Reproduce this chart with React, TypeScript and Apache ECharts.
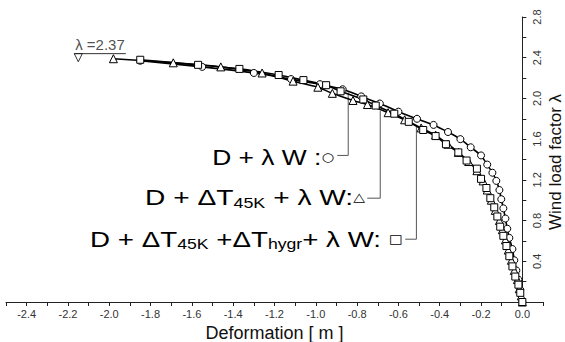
import React, { useEffect, useRef } from 'react';
import * as echarts from 'echarts';

// Deformation [m] (x) and wind load factor λ (y)
const circleX = [-1.85, -1.55, -1.30, -1.12, -0.98, -0.87, -0.78, -0.69, -0.60, -0.51, -0.43, -0.36, -0.30, -0.25, -0.20, -0.17, -0.145, -0.126, -0.111, -0.102, -0.092, -0.082, -0.073, -0.063, -0.048, -0.039, -0.029, -0.019, -0.010, 0];
const circleY = [2.37, 2.31, 2.25, 2.19, 2.14, 2.09, 2.02, 1.95, 1.87, 1.80, 1.74, 1.67, 1.60, 1.52, 1.44, 1.35, 1.27, 1.19, 1.10, 1.01, 0.92, 0.82, 0.72, 0.63, 0.52, 0.41, 0.31, 0.22, 0.12, 0];

const triX = [-1.98, -1.69, -1.46, -1.26, -1.11, -0.99, -0.92, -0.82, -0.75, -0.65, -0.57, -0.49, -0.42, -0.36, -0.31, -0.26, -0.22, -0.19, -0.17, -0.15, -0.131, -0.111, -0.097, -0.082, -0.068, -0.053, -0.039, -0.024, -0.015, -0.005, 0];
const triY = [2.39, 2.35, 2.31, 2.25, 2.17, 2.11, 2.05, 1.98, 1.94, 1.86, 1.79, 1.71, 1.64, 1.55, 1.47, 1.38, 1.29, 1.19, 1.10, 1.00, 0.90, 0.80, 0.71, 0.61, 0.51, 0.41, 0.31, 0.22, 0.13, 0.06, 0];

const squareX = [-1.85, -1.57, -1.37, -1.18, -1.06, -0.95, -0.88, -0.77, -0.71, -0.62, -0.55, -0.48, -0.42, -0.37, -0.31, -0.27, -0.22, -0.20, -0.174, -0.155, -0.136, -0.121, -0.107, -0.092, -0.077, -0.063, -0.048, -0.034, -0.019, -0.010, 0];
const squareY = [2.38, 2.33, 2.29, 2.23, 2.18, 2.13, 2.07, 1.99, 1.93, 1.85, 1.77, 1.69, 1.63, 1.55, 1.47, 1.39, 1.31, 1.21, 1.12, 1.02, 0.93, 0.84, 0.74, 0.65, 0.55, 0.45, 0.35, 0.25, 0.17, 0.09, 0];

// ultimate load marker
const ultX = [-2.15];
const ultY = [2.40];
const ultLabel = 'λ =2.37';
const ultLineX = [-2.17, -1.92];
const ultLineY = [2.44, 2.44];

// leader lines (data coords)
const leadCircleX = [-0.896, -0.843, -0.843];
const leadCircleY = [1.44, 1.44, 2.06];
const leadTriX = [-0.751, -0.688, -0.688];
const leadTriY = [1.02, 1.02, 1.88];
const leadSquareX = [-0.567, -0.513, -0.513];
const leadSquareY = [0.617, 0.617, 1.74];

const xTickLabels = [-2.4, -2.2, -2.0, -1.8, -1.6, -1.4, -1.2, -1.0, -0.8, -0.6, -0.4, -0.2, 0.0];
const yTickLabels = [0.4, 0.8, 1.2, 1.6, 2.0, 2.4, 2.8];
const yAxisTitle = 'Wind load factor λ';

const FONT = '"Liberation Sans", Arial, sans-serif';
const zip = (xs: number[], ys: number[]) => xs.map((x, i) => [x, ys[i]]);

export default function App() {
  const ref = useRef<HTMLDivElement>(null);
  useEffect(() => {
    const chart = echarts.init(ref.current!, null, { renderer: 'svg' });
    const markerStyle = { color: '#ffffff', borderColor: '#000000', borderWidth: 1 };
    const curve = (name: string, xs: number[], ys: number[], symbol: string, size: number) => ({
      name,
      type: 'line',
      data: zip(xs, ys),
      symbol,
      symbolSize: size,
      showAllSymbol: true,
      smooth: 0.2,
      lineStyle: { color: '#000', width: 1.6 },
      itemStyle: markerStyle,
      z: 3,
    });
    const leader = (xs: number[], ys: number[]) => ({
      type: 'line',
      data: zip(xs, ys),
      symbol: 'none',
      lineStyle: { color: '#555', width: 1 },
      z: 2,
      silent: true,
    });
    const sub = { fontSize: 14, fontFamily: FONT, color: '#111', padding: [11, 0, 0, 0] };
    const main = { fontSize: 22, fontFamily: FONT, color: '#111' };
    const sym = { fontSize: 12, fontFamily: '"DejaVu Sans", sans-serif', color: '#333' };
    const legendText = (text: string, x: number, y: number, sx: number) => ({
      type: 'text',
      x,
      y,
      scaleX: sx,
      style: {
        text,
        align: 'right',
        verticalAlign: 'middle',
        rich: { m: main, s: sub, k: sym },
      },
    });
    chart.setOption({
      animation: false,
      backgroundColor: '#ffffff',
      grid: { left: 6, right: 22, top: 17, bottom: 40, containLabel: false, outerBoundsMode: 'none' },
      xAxis: {
        type: 'value',
        min: -2.5,
        max: 0.1,
        interval: 0.1,
        name: 'Deformation [ m ]',
        nameLocation: 'middle',
        nameGap: 22,
        nameMoveOverlap: false,
        nameTextStyle: { fontSize: 18, fontFamily: FONT, color: '#111' },
        axisLine: { onZero: false, lineStyle: { color: '#222', width: 1 } },
        axisTick: { show: true, inside: false, length: 4, lineStyle: { color: '#222' } },
        axisLabel: {
          fontSize: 11,
          fontFamily: FONT,
          color: '#333',
          margin: 6,
          showMinLabel: true,
          showMaxLabel: true,
          formatter: (v: number) => {
            const hit = xTickLabels.find((t) => Math.abs(t - v) < 1e-6);
            return hit === undefined ? '' : hit.toFixed(1);
          },
        },
        splitLine: { show: false },
      },
      yAxis: {
        type: 'value',
        position: 'right',
        min: 0,
        max: 2.8,
        interval: 0.2,
        axisLine: { show: true, onZero: true, lineStyle: { color: '#222', width: 1 } },
        axisTick: { show: true, inside: false, length: 4, lineStyle: { color: '#222' } },
        axisLabel: {
          rotate: 90,
          fontSize: 11,
          fontFamily: FONT,
          color: '#333',
          margin: -12,
          formatter: (v: number) => {
            const hit = yTickLabels.find((t) => Math.abs(t - v) < 1e-6);
            return hit === undefined ? '' : hit.toFixed(1);
          },
        },
        splitLine: { show: false },
      },
      series: [
        leader(leadCircleX, leadCircleY),
        leader(leadTriX, leadTriY),
        leader(leadSquareX, leadSquareY),
        curve('D + λ W', circleX, circleY, 'circle', 7),
        curve('D + ΔT45K + λ W', triX, triY, 'triangle', 8),
        curve('D + ΔT45K + ΔThygr + λ W', squareX, squareY, 'rect', 7),
        {
          type: 'line',
          data: zip(ultLineX, ultLineY),
          symbol: 'none',
          lineStyle: { color: '#333', width: 1 },
          z: 2,
        },
        {
          type: 'scatter',
          data: zip(ultX, ultY),
          symbol: 'triangle',
          symbolRotate: 180,
          symbolSize: 8,
          itemStyle: markerStyle,
          z: 4,
        },
        {
          type: 'scatter',
          data: [[(ultLineX[0] + ultLineX[1]) / 2, ultLineY[0]]],
          symbolSize: 1,
          itemStyle: { color: 'rgba(0,0,0,0)' },
          label: {
            show: true,
            position: 'top',
            distance: 1,
            formatter: ultLabel,
            fontSize: 15,
            fontFamily: FONT,
            color: '#222',
          },
          z: 4,
        },
      ],
      graphic: [
        legendText('{m|D + λ W :}{k|○}', 334, 157, 1.2),
        legendText('{m|D + ΔT}{s|45K}{m| + λ W:}{k|△}', 365, 197, 1.28),
        legendText('{m|D + ΔT}{s|45K}{m| +ΔT}{s|hygr}{m|+ λ W: }{k|□}', 403, 239, 1.26),
        {
          type: 'text',
          x: 555,
          y: 162,
          rotation: Math.PI / 2,
          style: {
            text: yAxisTitle,
            align: 'center',
            verticalAlign: 'middle',
            fontSize: 17,
            fontFamily: FONT,
            fill: '#111',
          },
        },
      ],
    });
    return () => chart.dispose();
  }, []);
  return <div ref={ref} style={{ position: 'absolute', left: 0, top: 0, width: 565, height: 342 }} />;
}
